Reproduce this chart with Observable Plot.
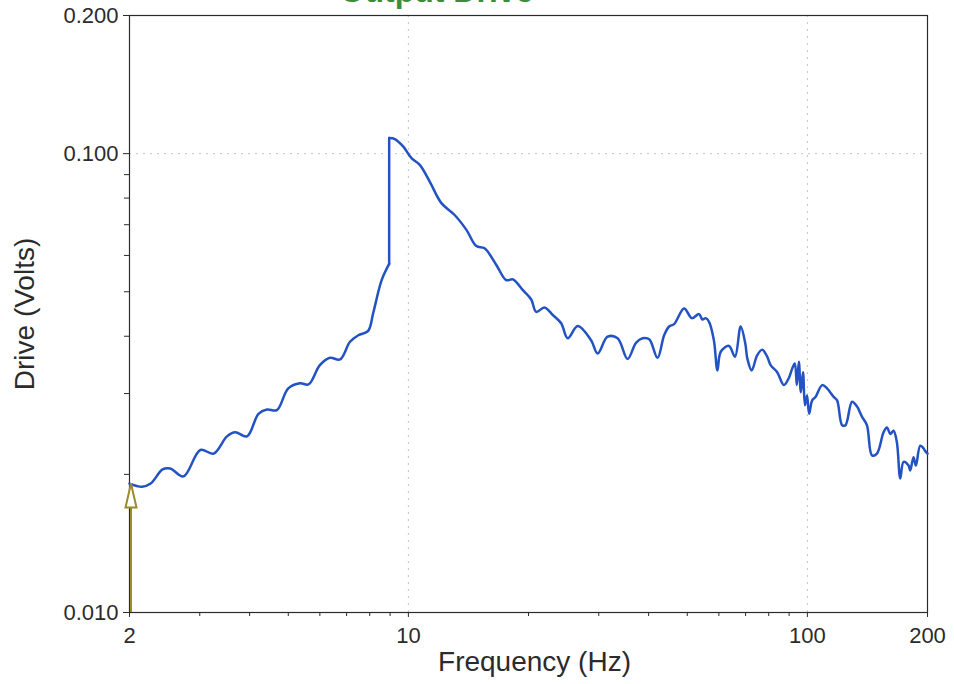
<!DOCTYPE html>
<html>
<head>
<meta charset="utf-8">
<script src="https://cdn.jsdelivr.net/npm/d3@7"></script>
<script src="https://cdn.jsdelivr.net/npm/@observablehq/plot@0.6"></script>
<style>
  html, body { margin: 0; padding: 0; background: #fff; }
  #chart { width: 954px; height: 684px; overflow: hidden; }
</style>
</head>
<body>
<div id="chart"></div>
<script>
// Output drive sweep, 2 Hz to 200 Hz (log-log)
const freqHz = [
  2.0, 2.15, 2.26, 2.42, 2.53, 2.73, 3.01, 3.25, 3.51, 3.68, 3.94, 4.21, 4.42, 4.68,
  5.00, 5.35, 5.62, 6.00, 6.36, 6.74, 7.14, 7.49, 7.93, 8.16, 8.57, 8.95, 8.951,
  9.25, 9.70, 10.18, 10.68, 11.31, 12.10, 13.06, 13.98, 14.80, 15.52, 16.61, 17.59,
  18.28, 19.36, 20.32, 20.91, 21.93, 23.01, 24.15, 25.08, 26.57, 28.70, 29.81, 31.57,
  33.45, 35.43, 37.19, 38.63, 40.14, 42.11, 43.75, 45.03, 46.34, 49.09, 51.32, 53.52,
  54.56, 55.63, 56.7, 58.3, 59.5, 60.65, 63.61, 65.84, 68.05, 69.9, 70.7, 72.5, 74.88,
  77.07, 79.3, 80.9, 84.0, 87.3, 89.8, 91.6, 93.0, 94.1, 95.2, 96.3, 97.5, 98.6, 99.8,
  101.0, 102.8, 104.8, 108.9, 112.0, 116.4, 118.7, 122.2, 124.6, 129.4, 133.2, 137.1,
  141.0, 145.2, 149.4, 155.2, 158.2, 161.4, 164.4, 167.6, 170.9, 174.2, 179.3, 181.0,
  184.5, 187.0, 191.8, 195.4, 198.0, 200.0
];
const driveVolts = [
  0.0191, 0.0188, 0.0191, 0.0205, 0.0206, 0.0198, 0.0226, 0.0222, 0.0242, 0.0247, 0.0242, 0.0271, 0.0277, 0.0276,
  0.0308, 0.0316, 0.0314, 0.0346, 0.0359, 0.0356, 0.0389, 0.0402, 0.0411, 0.0449, 0.0530, 0.0575, 0.1081,
  0.1076, 0.1037, 0.0978, 0.0945, 0.0869, 0.0780, 0.0735, 0.0682, 0.0629, 0.0622, 0.0572, 0.0530,
  0.0532, 0.0504, 0.0481, 0.0452, 0.0462, 0.0445, 0.0427, 0.0396, 0.0421, 0.0392, 0.0367, 0.0399,
  0.0396, 0.0357, 0.0387, 0.0396, 0.0394, 0.0359, 0.0402, 0.0420, 0.0425, 0.0460, 0.0438, 0.0447,
  0.0435, 0.0438, 0.0430, 0.0392, 0.0337, 0.0370, 0.0381, 0.0361, 0.0420, 0.0385, 0.0358, 0.0337, 0.0364,
  0.0374, 0.0361, 0.0346, 0.0334, 0.0313, 0.0324, 0.0340, 0.0349, 0.0313, 0.0352, 0.0302, 0.0334, 0.0283, 0.0297,
  0.0271, 0.0290, 0.0295, 0.0313, 0.0308, 0.0295, 0.0290, 0.0256, 0.0256, 0.0288, 0.0281, 0.0267,
  0.0256, 0.0220, 0.0222, 0.0247, 0.0253, 0.0245, 0.0249, 0.0235, 0.0196, 0.0213, 0.0209, 0.0204,
  0.0218, 0.0209, 0.0231, 0.0228, 0.0224, 0.0222
];

// Axis ticks
const xMajorTicks = [2, 10, 100, 200];
const xMinorTicks = [3, 4, 5, 6, 7, 8, 9, 20, 30, 40, 50, 60, 70, 80, 90];
const yMajorTicks = [0.01, 0.1, 0.2];
const yMinorTicks = [0.02, 0.03, 0.04, 0.05, 0.06, 0.07, 0.08, 0.09];
const xGrid = [10, 100];
const yGrid = [0.1];

// Start-of-sweep marker
const startFreq = 2;
const startLevel = 0.0191;

const titleText = "Output Drive";
const xLabel = "Frequency (Hz)";
const yLabel = "Drive (Volts)";

const data = freqHz.map((f, i) => ({f, v: driveVolts[i]}));

// The drive steps straight up at the resonance: the smooth curve is drawn
// on either side of the step, and the step itself as a straight segment.
const stepIndex = freqHz.findIndex((f, i) => i > 0 && driveVolts[i] / driveVolts[i - 1] > 1.5);
const rising = data.slice(0, stepIndex);
const falling = data.slice(stepIndex);
const step = data.slice(stepIndex - 1, stepIndex + 1);

// Hollow, narrow arrowhead with its tip at the anchor point
const arrowHead = {
  draw(ctx) {
    ctx.moveTo(0, 0);
    ctx.lineTo(-5.5, 24);
    ctx.lineTo(5.5, 24);
    ctx.closePath();
  }
};

const font = "'Liberation Sans', Arial, Helvetica, sans-serif";
const ink = "#2b2b2b";
const blue = "#2352c2";

const chart = Plot.plot({
  width: 954,
  height: 684,
  marginLeft: 129,
  marginRight: 27,
  marginTop: 15,
  marginBottom: 72,
  style: {fontFamily: font, fontSize: "22px", color: ink, background: "#fff", overflow: "visible"},
  x: {type: "log", domain: [2, 200], axis: null},
  y: {type: "log", domain: [0.01, 0.2], axis: null},
  marks: [
    Plot.ruleX(xGrid, {stroke: "#c4c4c4", strokeDasharray: "2,5", strokeWidth: 1}),
    Plot.ruleY(yGrid, {stroke: "#c4c4c4", strokeDasharray: "2,5", strokeWidth: 1}),
    Plot.axisY(yMajorTicks, {
      tickSize: 6, tickPadding: 5, fontSize: 22, stroke: ink, fill: ink,
      tickFormat: (d) => d.toFixed(3), label: null
    }),
    Plot.axisY(yMinorTicks, {tickSize: 5, tickFormat: () => "", stroke: ink, label: null}),
    Plot.axisX(xMajorTicks, {
      tickSize: 5, tickPadding: 10, fontSize: 22, stroke: ink, fill: ink,
      tickFormat: (d) => String(d), label: null
    }),
    Plot.axisX(xMinorTicks, {tickSize: 4, tickFormat: () => "", stroke: ink, label: null}),
    Plot.frame({stroke: ink, strokeWidth: 1.2}),
    Plot.line(rising, {x: "f", y: "v", stroke: blue, strokeWidth: 2.5, curve: "catmull-rom"}),
    Plot.line(step, {x: "f", y: "v", stroke: blue, strokeWidth: 2.5, curve: "linear"}),
    Plot.line(falling, {x: "f", y: "v", stroke: blue, strokeWidth: 2.5, curve: "catmull-rom"}),
    Plot.ruleX([startFreq], {y1: 0.01, y2: startLevel, stroke: "#9a8c2a", strokeWidth: 2, dx: 1.5}),
    Plot.dot([startFreq], {
      x: (d) => d, y: () => startLevel, symbol: arrowHead, r: 1,
      fill: "#fff", stroke: "#9a8c2a", strokeWidth: 2, dx: 1.5
    }),
    Plot.text([xLabel], {frameAnchor: "bottom", textAnchor: "middle", dx: 6, dy: 50, fontSize: 28, fill: ink, lineAnchor: "middle"}),
    Plot.text([yLabel], {frameAnchor: "left", textAnchor: "middle", dx: -104, rotate: -90, fontSize: 28, fill: ink}),
    Plot.text([titleText], {
      frameAnchor: "top", textAnchor: "middle", dx: -92, dy: -14, lineAnchor: "bottom",
      fontSize: 32, fontWeight: "bold", fill: "#3c8c3c"
    })
  ]
});

document.getElementById("chart").appendChild(chart);
</script>
</body>
</html>
